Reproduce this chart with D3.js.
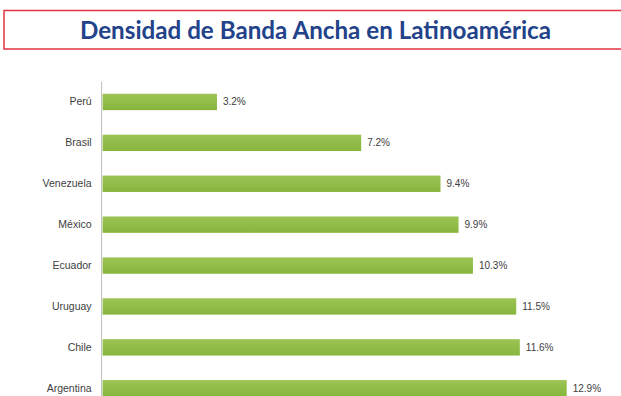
<!DOCTYPE html>
<html>
<head>
<meta charset="utf-8">
<script src="https://cdn.jsdelivr.net/npm/d3@7"></script>
<style>
  html, body { margin: 0; padding: 0; background: #ffffff; }
  svg { display: block; }
</style>
</head>
<body>
<svg id="chart" width="621" height="396"></svg>
<script>
// Broadband density by country (% of population)
const countries = ["Perú", "Brasil", "Venezuela", "México", "Ecuador", "Uruguay", "Chile", "Argentina"];
const density = [3.2, 7.2, 9.4, 9.9, 10.3, 11.5, 11.6, 12.9];
const valueLabels = ["3.2%", "7.2%", "9.4%", "9.9%", "10.3%", "11.5%", "11.6%", "12.9%"];
const titleText = "Densidad de Banda Ancha en Latinoamérica";

const svg = d3.select("#chart");

// Title box
svg.append("rect")
  .attr("x", 4).attr("y", 10.5)
  .attr("width", 630).attr("height", 38.5)
  .attr("fill", "#ffffff")
  .attr("stroke", "#e0343f")
  .attr("stroke-width", 1.5);

svg.append("text")
  .attr("x", 315.5).attr("y", 38.5)
  .attr("text-anchor", "middle")
  .attr("font-family", "Lato, 'Open Sans', sans-serif")
  .attr("font-weight", "bold")
  .attr("font-size", 24.2)
  .attr("fill", "#22428a")
  .text(titleText);

// Scales
const x = d3.scaleLinear().domain([0, 12.9]).range([101.6, 566.7]);
const y = d3.scaleBand().domain(countries).range([81.5, 81.5 + 8 * 40.9]).paddingInner(0.6).paddingOuter(0.3);

// Category axis
const yAxis = d3.axisLeft(y).tickSize(0).tickPadding(10);
const gy = svg.append("g")
  .attr("transform", `translate(${x(0)},0)`)
  .call(yAxis);
gy.select(".domain").attr("stroke", "#bdbdbd").attr("stroke-width", 1)
  .attr("d", `M0,81.5V${396}`);
gy.selectAll("text")
  .attr("font-family", "'Liberation Sans', Arial, sans-serif")
  .attr("font-size", 10.5)
  .attr("fill", "#404040");

// Bars
const grad = svg.append("defs").append("linearGradient")
  .attr("id", "barFill").attr("x1", 0).attr("x2", 0).attr("y1", 0).attr("y2", 1);
grad.append("stop").attr("offset", 0).attr("stop-color", "#9cc455");
grad.append("stop").attr("offset", 1).attr("stop-color", "#86b53c");

svg.append("g").selectAll("rect")
  .data(countries)
  .join("rect")
  .attr("x", x(0) + 1)
  .attr("y", d => y(d))
  .attr("width", (d, i) => x(density[i]) - x(0) - 1)
  .attr("height", y.bandwidth())
  .attr("fill", "url(#barFill)");

// Value labels
svg.append("g").selectAll("text")
  .data(countries)
  .join("text")
  .attr("x", (d, i) => x(density[i]) + 6)
  .attr("y", d => y(d) + y.bandwidth() / 2)
  .attr("dy", "0.35em")
  .attr("font-family", "'Liberation Sans', Arial, sans-serif")
  .attr("font-size", 10)
  .attr("fill", "#404040")
  .text((d, i) => valueLabels[i]);
</script>
</body>
</html>
